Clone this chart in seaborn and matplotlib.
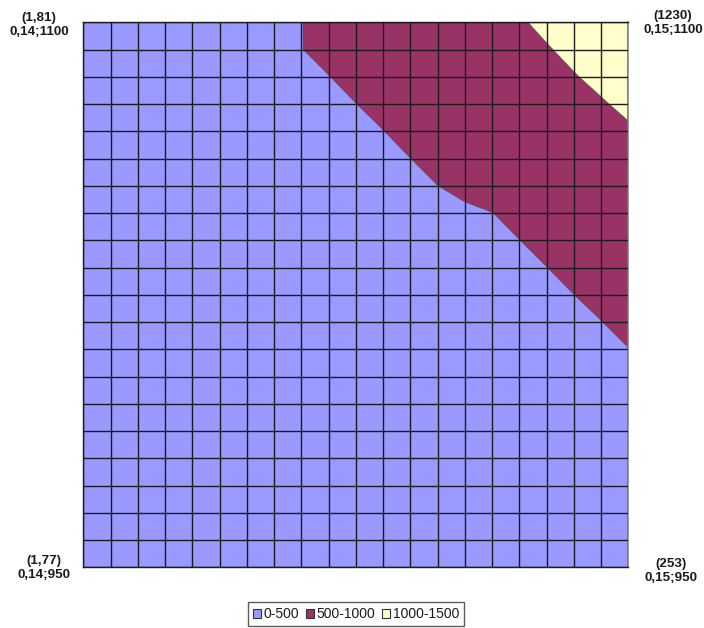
import numpy as np
import matplotlib
matplotlib.use("Agg")
import matplotlib.pyplot as plt
from matplotlib.patches import Patch
import seaborn as sns

# Surface values on a 21 x 21 grid (row 0 = top edge, col 0 = left edge)
Z = [
    [1.81, 64, 126, 188, 250, 312, 374, 436, 496, 560, 621, 682, 742, 803, 863, 924, 980, 1042, 1105, 1167, 1230],
    [2, 64, 126, 188, 250, 312, 374, 436, 496, 551, 605, 660, 714, 769, 823, 878, 932, 986, 1045, 1105, 1165],
    [2, 57, 112, 167, 222, 277, 332, 387, 441, 496, 551, 606, 661, 716, 771, 826, 880, 935, 989, 1045, 1100],
    [2, 52, 101, 151, 200, 250, 300, 349, 399, 448, 498, 551, 605, 659, 713, 767, 821, 875, 929, 983, 1040],
    [2, 47, 92, 137, 182, 227, 272, 317, 362, 407, 452, 497, 549, 602, 655, 709, 762, 815, 868, 922, 975],
    [2, 43, 85, 126, 168, 209, 250, 292, 333, 374, 416, 457, 499, 550, 602, 654, 706, 758, 810, 862, 915],
    [2, 40, 79, 117, 155, 194, 232, 270, 308, 347, 385, 423, 461, 499, 551, 601, 652, 703, 754, 804, 855],
    [2, 35, 68, 101, 134, 167, 200, 233, 266, 299, 332, 365, 398, 431, 464, 497, 557, 618, 679, 739, 800],
    [2, 33, 64, 95, 126, 157, 188, 219, 250, 281, 312, 343, 374, 405, 436, 467, 498, 559, 619, 680, 740],
    [2, 31, 60, 90, 119, 148, 177, 206, 236, 265, 294, 323, 352, 382, 411, 440, 469, 498, 558, 619, 680],
    [2, 30, 57, 85, 112, 140, 168, 195, 223, 250, 278, 306, 333, 361, 388, 416, 444, 471, 499, 559, 620],
    [2, 28, 54, 80, 106, 133, 159, 185, 211, 237, 263, 289, 315, 341, 367, 394, 420, 446, 472, 496, 560],
    [2, 27, 51, 76, 101, 125, 150, 175, 199, 224, 249, 273, 298, 323, 347, 372, 397, 421, 446, 471, 496],
    [2, 25, 48, 71, 95, 118, 141, 164, 187, 210, 234, 257, 280, 303, 326, 349, 372, 396, 419, 442, 465],
    [2, 24, 45, 67, 89, 110, 132, 154, 175, 197, 219, 240, 262, 283, 305, 327, 348, 370, 392, 413, 435],
    [2, 22, 42, 62, 83, 103, 123, 143, 163, 183, 204, 224, 244, 264, 284, 304, 324, 345, 365, 385, 405],
    [2, 21, 39, 58, 77, 95, 114, 133, 151, 170, 189, 207, 226, 244, 263, 282, 300, 319, 338, 356, 375],
    [2, 19, 36, 53, 71, 88, 105, 122, 139, 156, 174, 191, 208, 225, 242, 259, 276, 294, 311, 328, 345],
    [2, 18, 33, 49, 65, 80, 96, 112, 127, 143, 159, 174, 190, 206, 221, 237, 252, 268, 284, 299, 315],
    [2, 16, 30, 44, 59, 73, 87, 101, 115, 129, 144, 158, 172, 186, 200, 214, 228, 243, 257, 271, 285],
    [1.77, 14, 27, 40, 52, 65, 77, 90, 102, 115, 127, 140, 152, 165, 177, 190, 203, 215, 228, 240, 253],
]

levels = [0, 500, 1000, 1500]
band_labels = ["0-500", "500-1000", "1000-1500"]
band_colors = ["#9999FF", "#993366", "#FFFFCC"]

corner_labels = {
    "top_left": "(1,81)\n0,14;1100",
    "top_right": "(1230)\n0,15;1100",
    "bottom_left": "(1,77)\n0,14;950",
    "bottom_right": "(253)\n0,15;950",
}

sns.set_theme(style="white")
plt.rcParams["font.family"] = ["Liberation Sans", "DejaVu Sans"]

Z = np.array(Z, dtype=float)
n_rows, n_cols = Z.shape
cols = np.arange(n_cols)
rows = np.arange(n_rows)

fig = plt.figure(figsize=(7.04, 6.28), dpi=100)
ax = fig.add_axes([83.3 / 704, 60.7 / 628, 545 / 704, 545 / 628])

palette = sns.color_palette(band_colors)
ax.contourf(cols, rows, Z, levels=levels, colors=palette, antialiased=True)
ax.contour(cols, rows, Z, levels=levels[1:-1], colors="#3a2a3a",
           linewidths=0.6, alpha=0.6)

ax.set_xlim(0, n_cols - 1)
ax.set_ylim(n_rows - 1, 0)
ax.set_xticks(cols)
ax.set_yticks(rows)
ax.tick_params(length=0, labelbottom=False, labelleft=False)
ax.set_axisbelow(False)
ax.grid(True, color="#1c1c1c", linewidth=1.0)
for side in ["left", "top", "bottom"]:
    ax.spines[side].set_color("#1c1c1c")
    ax.spines[side].set_linewidth(1.0)
ax.spines["right"].set_color("#8c8c8c")
ax.spines["right"].set_linewidth(1.2)

label_kw = dict(ha="center", va="center", fontsize=9.6, fontweight="bold",
                color="#1a1a1a", multialignment="center", linespacing=1.15)
fig.text(39 / 704, 1 - 25 / 628, corner_labels["top_left"], **label_kw)
fig.text(673 / 704, 1 - 23 / 628, corner_labels["top_right"], **label_kw)
fig.text(44 / 704, 1 - 568 / 628, corner_labels["bottom_left"], **label_kw)
fig.text(671 / 704, 1 - 571 / 628, corner_labels["bottom_right"], **label_kw)

handles = [Patch(facecolor=c, edgecolor="#333333", linewidth=0.8, label=l)
           for c, l in zip(band_colors, band_labels)]
leg = fig.legend(handles=handles, loc="center",
                 bbox_to_anchor=(356 / 704, 1 - 614 / 628), ncol=3,
                 fontsize=10, frameon=True, fancybox=False, shadow=False,
                 handlelength=0.6, handleheight=0.6, handletextpad=0.15,
                 columnspacing=0.5, borderpad=0.35, borderaxespad=0)
leg.get_frame().set_edgecolor("#333333")
leg.get_frame().set_linewidth(1.0)
for t in leg.get_texts():
    t.set_color("#1a1a1a")

fig.savefig("out.png", dpi=100)
